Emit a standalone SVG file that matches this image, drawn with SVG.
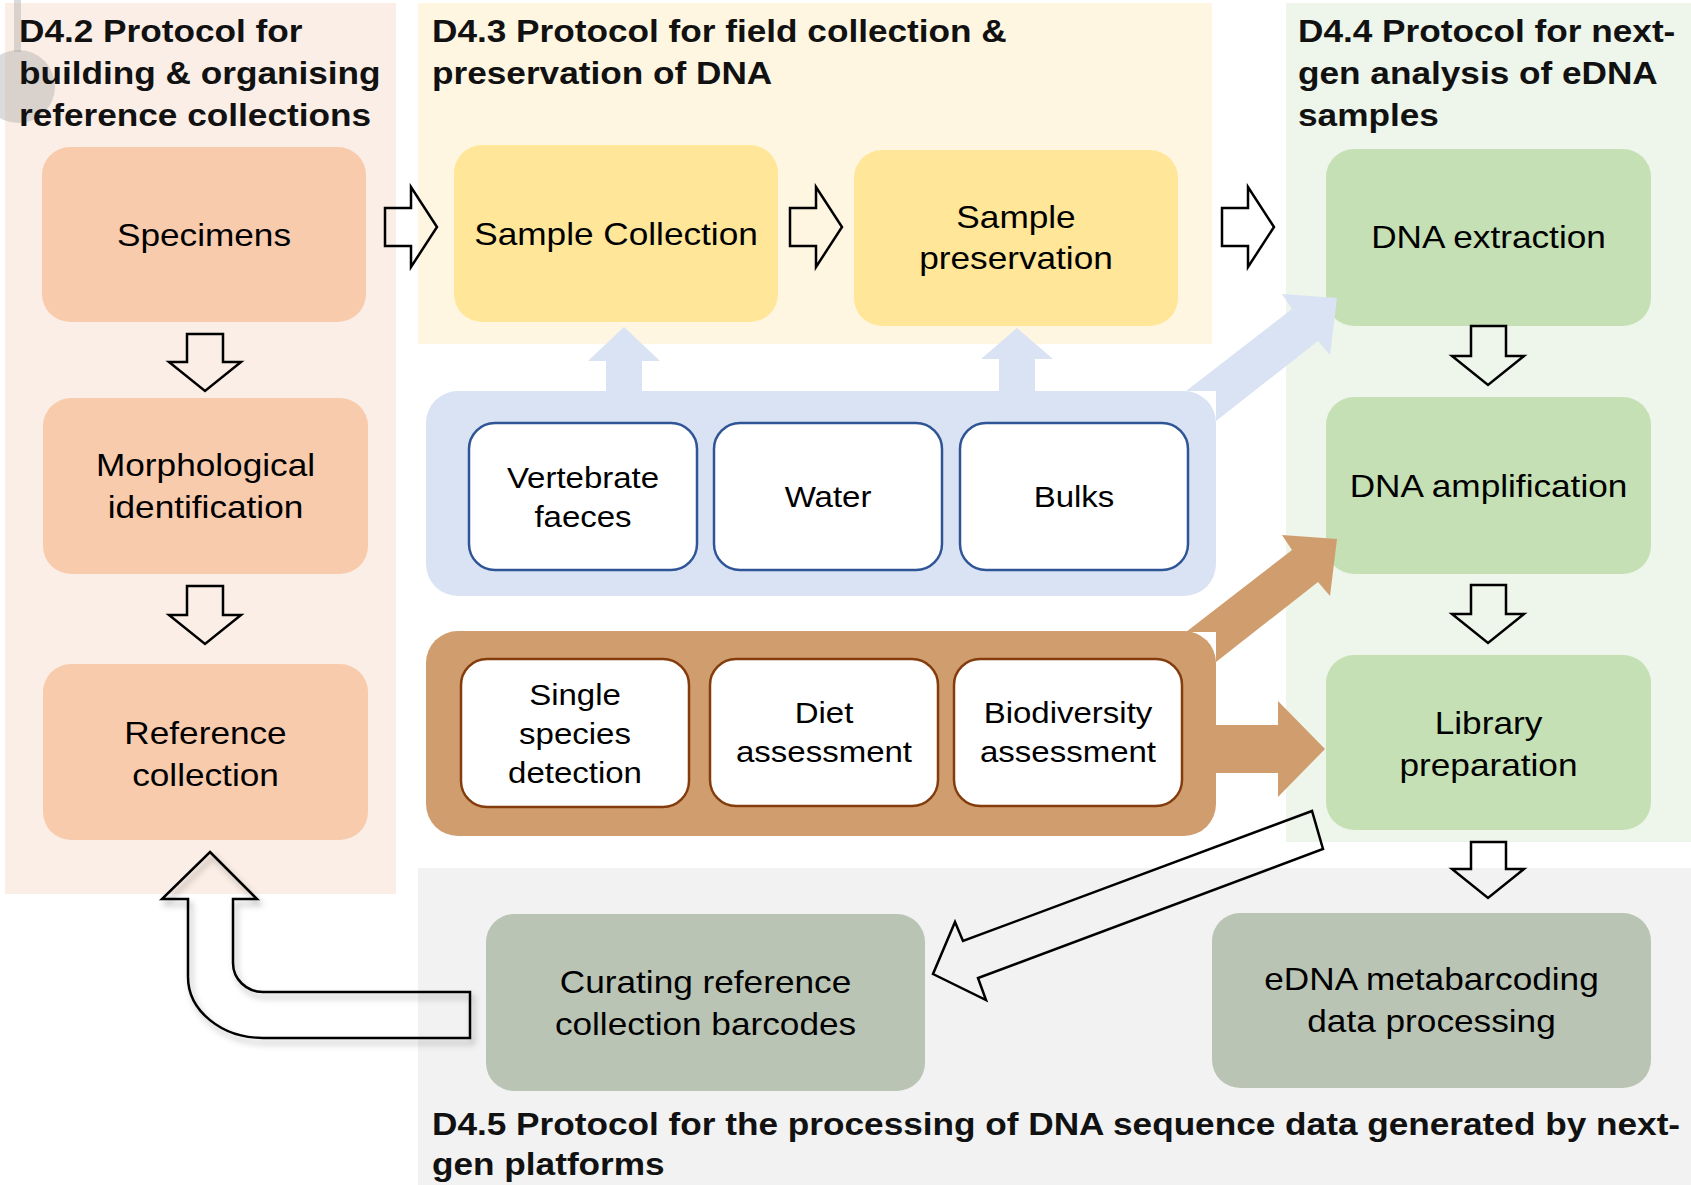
<svg xmlns="http://www.w3.org/2000/svg" width="1691" height="1185" viewBox="0 0 1691 1185">
<defs>
<style>
.t{font-family:"Liberation Sans",Arial,sans-serif;font-size:32px;fill:#000;text-anchor:middle}
.s{font-size:30px}
.h{font-weight:bold;text-anchor:start;fill:#111}
.or{fill:#F8CBAD}.ye{fill:#FFE699}.gr{fill:#C5E0B4}.gg{fill:#BAC4B4}
.wb{fill:#fff;stroke:#2F5597;stroke-width:2.5}
.wr{fill:#fff;stroke:#843C0C;stroke-width:2.5}
.ha{fill:none;stroke:#000;stroke-width:2.5;stroke-linejoin:miter}
.bl{fill:#DAE3F3}.br{fill:#D09E6E}
</style>
<filter id="sh" x="-20%" y="-20%" width="150%" height="150%">
<feDropShadow dx="3" dy="5" stdDeviation="3" flood-color="#000" flood-opacity="0.3"/>
</filter>
</defs>
<rect width="1691" height="1185" fill="#fff"/>
<g id="panels">
<rect x="5" y="3" width="391" height="891" fill="#FBEEE6"/>
<rect x="418" y="3" width="794" height="341" fill="#FFF6E2"/>
<rect x="1286" y="3" width="405" height="839" fill="#EEF5EA"/>
<rect x="418" y="868" width="1273" height="317" fill="#F2F2F2"/>
<rect x="14" y="0" width="7" height="52" fill="#A6A6A6" opacity="0.4"/>
<circle cx="18.5" cy="86.5" r="36.5" fill="#A6A6A6" opacity="0.4"/>
</g>
<g id="titles">
<text class="t h" transform="translate(19 0) scale(1.1 1)"><tspan x="0" y="42">D4.2 Protocol for</tspan><tspan x="0" y="84">building &amp; organising</tspan><tspan x="0" y="126">reference collections</tspan></text>
<text class="t h" transform="translate(432 0) scale(1.1 1)"><tspan x="0" y="42">D4.3 Protocol for field collection &amp;</tspan><tspan x="0" y="84">preservation of DNA</tspan></text>
<text class="t h" transform="translate(1298 0) scale(1.1 1)"><tspan x="0" y="42">D4.4 Protocol for next-</tspan><tspan x="0" y="84">gen analysis of eDNA</tspan><tspan x="0" y="126">samples</tspan></text>
<text class="t h" transform="translate(432 0) scale(1.1 1)"><tspan x="0" y="1135">D4.5 Protocol for the processing of DNA sequence data generated by next-</tspan><tspan x="0" y="1175">gen platforms</tspan></text>
</g>
<g id="specimens"><rect class="or" x="42" y="147" width="324" height="175" rx="28"/><text class="t" transform="translate(204 0) scale(1.1 1)" y="246">Specimens</text></g>
<g id="morphological"><rect class="or" x="43" y="398" width="325" height="176" rx="28"/><text class="t" transform="translate(205.5 0) scale(1.1 1)"><tspan x="0" y="476">Morphological</tspan><tspan x="0" y="518">identification</tspan></text></g>
<g id="reference"><rect class="or" x="43" y="664" width="325" height="176" rx="28"/><text class="t" transform="translate(205.5 0) scale(1.1 1)"><tspan x="0" y="744">Reference</tspan><tspan x="0" y="786">collection</tspan></text></g>
<g id="samplecollection"><rect class="ye" x="454" y="145" width="324" height="177" rx="28"/><text class="t" transform="translate(616 0) scale(1.1 1)" y="245">Sample Collection</text></g>
<g id="samplepreservation"><rect class="ye" x="854" y="150" width="324" height="176" rx="28"/><text class="t" transform="translate(1016 0) scale(1.1 1)"><tspan x="0" y="228">Sample</tspan><tspan x="0" y="269">preservation</tspan></text></g>
<g id="dnaextraction"><rect class="gr" x="1326" y="149" width="325" height="177" rx="28"/><text class="t" transform="translate(1488.5 0) scale(1.1 1)" y="248">DNA extraction</text></g>
<g id="dnaamplification"><rect class="gr" x="1326" y="397" width="325" height="177" rx="28"/><text class="t" transform="translate(1488.5 0) scale(1.1 1)" y="497">DNA amplification</text></g>
<g id="librarypreparation"><rect class="gr" x="1326" y="655" width="325" height="175" rx="28"/><text class="t" transform="translate(1488.5 0) scale(1.1 1)"><tspan x="0" y="734">Library</tspan><tspan x="0" y="776">preparation</tspan></text></g>
<g id="ednaprocessing"><rect class="gg" x="1212" y="913" width="439" height="175" rx="28"/><text class="t" transform="translate(1431.5 0) scale(1.1 1)"><tspan x="0" y="990">eDNA metabarcoding</tspan><tspan x="0" y="1032">data processing</tspan></text></g>
<g id="curating"><rect class="gg" x="486" y="914" width="439" height="177" rx="28"/><text class="t" transform="translate(705.5 0) scale(1.1 1)"><tspan x="0" y="993">Curating reference</tspan><tspan x="0" y="1035">collection barcodes</tspan></text></g>
<g id="sampletypes">
<rect class="bl" x="426" y="391" width="790" height="205" rx="32"/>
<g id="vertebratefaeces"><rect class="wb" x="469" y="423" width="228" height="147" rx="26"/><text class="t s" transform="translate(583 0) scale(1.1 1)"><tspan x="0" y="488">Vertebrate</tspan><tspan x="0" y="527">faeces</tspan></text></g>
<g id="water"><rect class="wb" x="714" y="423" width="228" height="147" rx="26"/><text class="t s" transform="translate(828 0) scale(1.1 1)" y="507">Water</text></g>
<g id="bulks"><rect class="wb" x="960" y="423" width="228" height="147" rx="26"/><text class="t s" transform="translate(1074 0) scale(1.1 1)" y="507">Bulks</text></g>
</g>
<g id="applications">
<rect class="br" x="426" y="631" width="790" height="205" rx="32"/>
<g id="singlespecies"><rect class="wr" x="461" y="659" width="228" height="148" rx="26"/><text class="t s" transform="translate(575 0) scale(1.1 1)"><tspan x="0" y="705">Single</tspan><tspan x="0" y="744">species</tspan><tspan x="0" y="783">detection</tspan></text></g>
<g id="diet"><rect class="wr" x="710" y="659" width="228" height="147" rx="26"/><text class="t s" transform="translate(824 0) scale(1.1 1)"><tspan x="0" y="723">Diet</tspan><tspan x="0" y="762">assessment</tspan></text></g>
<g id="biodiversity"><rect class="wr" x="954" y="659" width="228" height="147" rx="26"/><text class="t s" transform="translate(1068 0) scale(1.1 1)"><tspan x="0" y="723">Biodiversity</tspan><tspan x="0" y="762">assessment</tspan></text></g>
</g>
<g id="connectors">
<path class="ha" d="M385 208 H411 V187 L437 227 L411 267 V246 H385 Z"/>
<path class="ha" d="M790 208 H816 V187 L842 227 L816 267 V246 H790 Z"/>
<path class="ha" d="M1222 208 H1248 V187 L1274 227 L1248 267 V246 H1222 Z"/>
<path class="ha" d="M187 334 H223 V362 H241 L205 391 L169 362 H187 Z"/>
<path class="ha" d="M187 586 H223 V615 H241 L205 644 L169 615 H187 Z"/>
<path class="ha" d="M1471 326 H1506 V356 H1524 L1488 385 L1452 356 H1471 Z"/>
<path class="ha" d="M1471 585 H1506 V614 H1524 L1488 643 L1452 614 H1471 Z"/>
<path class="ha" d="M1471 842 H1506 V869 H1524 L1488 898 L1452 869 H1471 Z"/>
<path class="bl" d="M606 392 V361 H588 L624 327 L660 361 H642 V392 Z"/>
<path class="bl" d="M999 392 V359 H981 L1017 328 L1053 359 H1035 V392 Z"/>
<polygon class="bl" points="1186,391 1292,309 1282,294 1337,298 1330,355 1318,341 1216,421 1216,391"/>
<polygon class="br" points="1186,632 1292,550 1282,535 1337,539 1330,596 1318,582 1216,662 1216,632"/>
<path class="br" d="M1200 725 H1278 V701 L1325 749 L1278 797 V773 H1200 Z"/>
<path class="ha" d="M1312 811 L963 941 L955 922 L933 974 L986 1000 L978 978 L1323 849 Z"/>
<path class="ha" filter="url(#sh)" d="M210 852 L257 899 H233 V963 A30 29 0 0 0 263 992 H470 V1038 H263 A75 61 0 0 1 188 977 V899 H162 Z"/>
</g>
</svg>
